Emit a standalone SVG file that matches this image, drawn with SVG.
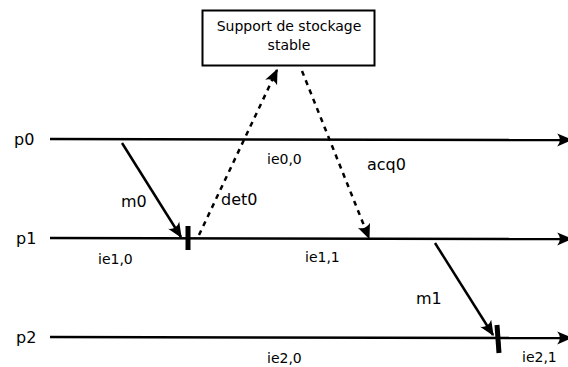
<svg xmlns="http://www.w3.org/2000/svg" width="568" height="367" viewBox="0 0 568 367">
<style>
text{font-family:"DejaVu Sans",sans-serif;fill:#000}
.big{font-size:16px}
.sm{font-size:14px}
.ln{stroke:#000;stroke-width:2.5;fill:none}
.dash{stroke:#000;stroke-width:2.5;fill:none;stroke-dasharray:5,5}
.bar{stroke:#000;stroke-width:5;fill:none}
</style>
<defs>
<marker id="ah" viewBox="-2 -6 14 12" markerWidth="7.4" markerHeight="6.3" refX="9" refY="0" orient="auto" markerUnits="strokeWidth">
<path d="M10,0 L-1.5,-5 Q2.5,0 -1.5,5 Z" fill="#000"/>
</marker>
</defs>
<g id="storage">
<rect x="202.5" y="10.5" width="172" height="55" fill="#fff" stroke="#000" stroke-width="2"/>
<text class="sm" x="289" y="31" text-anchor="middle">Support de stockage</text>
<text class="sm" x="289" y="50" text-anchor="middle">stable</text>
</g>
<g id="p0">
<text class="big" x="14" y="145">p0</text>
</g>
<g id="p1">
<text class="big" x="16" y="244">p1</text>
</g>
<g id="p2">
<text class="big" x="16" y="343">p2</text>
</g>
<g id="connectors">
<line class="ln" x1="50" y1="139" x2="571" y2="140" marker-end="url(#ah)"/>
<line class="ln" x1="50" y1="238" x2="571" y2="239" marker-end="url(#ah)"/>
<line class="ln" x1="50" y1="337" x2="571" y2="338" marker-end="url(#ah)"/>
<line class="ln" x1="122" y1="143" x2="181" y2="237" marker-end="url(#ah)"/>
<line class="dash" x1="199" y1="235" x2="277" y2="70" marker-end="url(#ah)"/>
<line class="dash" x1="302" y1="71" x2="369" y2="238" marker-end="url(#ah)"/>
<line class="ln" x1="435" y1="243" x2="493" y2="335" marker-end="url(#ah)"/>
<line class="bar" x1="188" y1="226" x2="188" y2="250"/>
<line class="bar" x1="497" y1="325" x2="499" y2="353"/>
</g>
<g id="labels">
<text class="big" x="121" y="207">m0</text>
<text class="big" x="221" y="205">det0</text>
<text class="big" x="367" y="170">acq0</text>
<text class="big" x="416" y="304">m1</text>
<text class="sm" x="267" y="164">ie0,0</text>
<text class="sm" x="98" y="264">ie1,0</text>
<text class="sm" x="305" y="262">ie1,1</text>
<text class="sm" x="267" y="363">ie2,0</text>
<text class="sm" x="522" y="362">ie2,1</text>
</g>
</svg>
